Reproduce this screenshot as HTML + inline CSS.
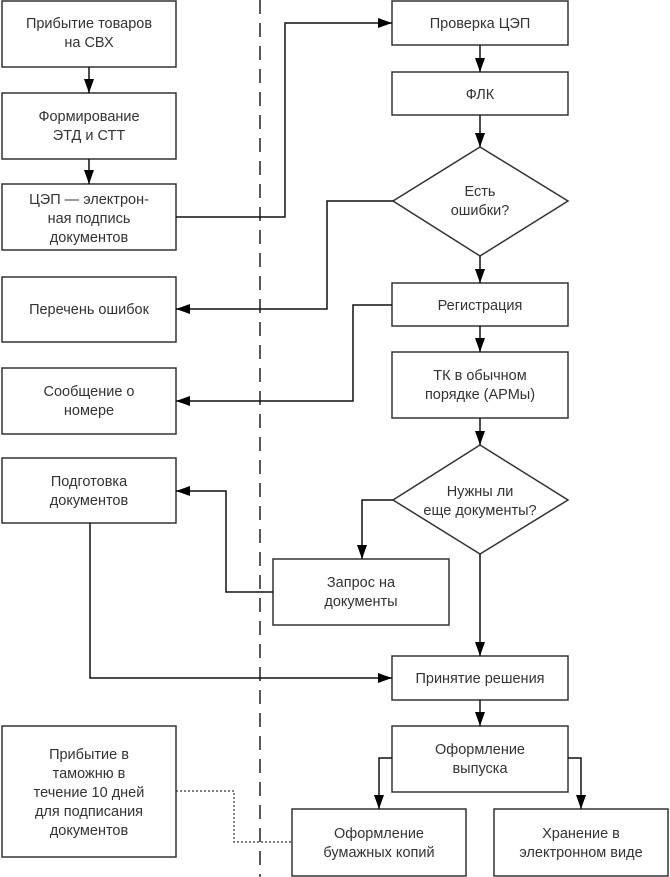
<!DOCTYPE html>
<html><head><meta charset="utf-8"><style>
html,body{margin:0;padding:0;background:#fff;}
svg{display:block;}
text{font-family:"Liberation Sans",sans-serif;font-size:14.5px;fill:#333;text-anchor:middle;}
</style></head><body>
<svg width="670" height="877" viewBox="0 0 670 877" xmlns="http://www.w3.org/2000/svg">
<defs>
<marker id="a" markerWidth="14" markerHeight="10" refX="14" refY="5" orient="auto" markerUnits="userSpaceOnUse" overflow="visible">
<path d="M0,0 L14,5 L0,10 Z" fill="#000" stroke="none"/></marker>
</defs>
<g fill="#fff" stroke="#333" stroke-width="1.5">
<rect x="2" y="1" width="174" height="66"/>
<rect x="2" y="93" width="174" height="66"/>
<rect x="2" y="184" width="174" height="66"/>
<rect x="2" y="277" width="174" height="65"/>
<rect x="2" y="368" width="174" height="66"/>
<rect x="2" y="458" width="174" height="65"/>
<rect x="2" y="726" width="174" height="131"/>
<rect x="392" y="1" width="176" height="44"/>
<rect x="392" y="72" width="176" height="43"/>
<polygon points="480,147 568,201 480,256 393,201"/>
<rect x="392" y="283" width="176" height="43"/>
<rect x="392" y="352" width="176" height="66"/>
<polygon points="480,445 568,500 480,554 393,500"/>
<rect x="273" y="559" width="176" height="66"/>
<rect x="392" y="656" width="176" height="44"/>
<rect x="392" y="726" width="176" height="66"/>
<rect x="292" y="809" width="174" height="67"/>
<rect x="494" y="809" width="174" height="67"/>
</g>
<line x1="260" y1="0" x2="260" y2="877" stroke="#222" stroke-width="1.5" stroke-dasharray="14,9"/>
<g fill="none" stroke="#111" stroke-width="1.5" marker-end="url(#a)">
<path d="M89,67 V93"/>
<path d="M89,159 V184"/>
<path d="M176,217 H285 V23 H392"/>
<path d="M480,45 V72"/>
<path d="M480,115 V147"/>
<path d="M480,256 V283"/>
<path d="M393,201 H327 V309 H176"/>
<path d="M480,326 V352"/>
<path d="M392,305 H353 V401 H176"/>
<path d="M480,418 V445"/>
<path d="M393,500 H362 V559"/>
<path d="M273,592 H226 V491 H176"/>
<path d="M90,523 V678 H392"/>
<path d="M480,554 V656"/>
<path d="M480,700 V726"/>
<path d="M392,758 H379 V809"/>
<path d="M568,758 H581 V809"/>
</g>
<path d="M176,791 H234 V842 H292" fill="none" stroke="#333" stroke-width="1.2" stroke-dasharray="2,2"/>
<text x="89" y="28">Прибытие товаров</text><text x="89" y="47">на СВХ</text>
<text x="89" y="121">Формирование</text><text x="89" y="140">ЭТД и СТТ</text>
<text x="89" y="204">ЦЭП — электрон-</text><text x="89" y="223">ная подпись</text><text x="89" y="242">документов</text>
<text x="89" y="314">Перечень ошибок</text>
<text x="89" y="396">Сообщение о</text><text x="89" y="415">номере</text>
<text x="89" y="486">Подготовка</text><text x="89" y="505">документов</text>
<text x="89" y="759">Прибытие в</text><text x="89" y="778">таможню в</text><text x="89" y="797">течение 10 дней</text><text x="89" y="816">для подписания</text><text x="89" y="835">документов</text>
<text x="480" y="28">Проверка ЦЭП</text>
<text x="480" y="99">ФЛК</text>
<text x="480" y="196">Есть</text><text x="480" y="215">ошибки?</text>
<text x="480" y="310">Регистрация</text>
<text x="480" y="380">ТК в обычном</text><text x="480" y="399">порядке (АРМы)</text>
<text x="480" y="496">Нужны ли</text><text x="480" y="515">еще документы?</text>
<text x="361" y="587">Запрос на</text><text x="361" y="606">документы</text>
<text x="480" y="683">Принятие решения</text>
<text x="480" y="754">Оформление</text><text x="480" y="773">выпуска</text>
<text x="379" y="838">Оформление</text><text x="379" y="857">бумажных копий</text>
<text x="581" y="838">Хранение в</text><text x="581" y="857">электронном виде</text>
</svg>
</body></html>
